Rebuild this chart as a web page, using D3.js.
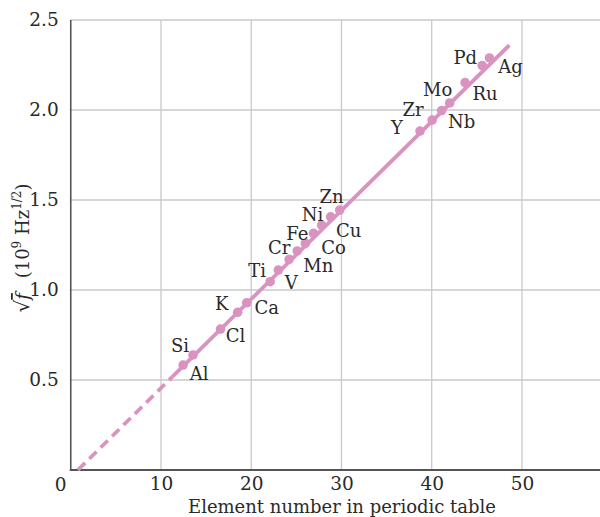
<!DOCTYPE html>
<html>
<head>
<meta charset="utf-8">
<script src="https://cdn.jsdelivr.net/npm/d3@7"></script>
<style>
  html, body { margin: 0; padding: 0; background: #fff; }
  svg { display: block; }
  text { font-family: "DejaVu Serif", "Liberation Serif", serif; fill: #2a2a2a; }
</style>
</head>
<body>
<svg id="chart" width="600" height="517"></svg>
<script>
// ---- data ----
const elements = ["Al","Si","Cl","K","Ca","Ti","V","Cr","Mn","Fe","Co","Ni","Cu","Zn","Y","Zr","Nb","Mo","Ru","Pd","Ag"];
const elementNumber = [12.45,13.55,16.6,18.5,19.5,22.1,23.0,24.2,25.1,26.0,26.9,27.8,28.8,29.8,38.7,40.05,41.1,42.0,43.7,45.6,46.4];
const sqrtFreq = [0.583,0.639,0.783,0.876,0.929,1.046,1.111,1.170,1.217,1.259,1.315,1.361,1.406,1.444,1.883,1.944,1.997,2.039,2.152,2.247,2.289];
const fitDashed = [[0.8, 0.0], [11.3, 0.52]];
const fitSolid = [[11.3, 0.52], [48.6, 2.36]];
const xTicks = [10, 20, 30, 40, 50];
const yTicks = [0.5, 1.0, 1.5, 2.0, 2.5];
const xTickLabels = ["10","20","30","40","50"];
const yTickLabels = ["0.5","1.0","1.5","2.0","2.5"];

// label placement (pixel offsets from the dot: layout only)
const labelOffsets = [
  [16,15],[-13,-3],[15,13],[-16,-2],[20,11],
  [-13,-5],[13,19],[-10,-5],[21,21],[-8,-3],[20,21],[-9,-4],[18,20],[-8,-7],
  [-23,3],[-19,-4],[20,17],[-12,-7],[20,17],[-17,-2],[21,15]
];

// ---- chart ----
const svg = d3.select("#chart");
const mLeft = 70.75, mRight = 600, mTop = 20, mBottom = 470;
const x = d3.scaleLinear().domain([0, 58.65]).range([mLeft, mRight]);
const y = d3.scaleLinear().domain([0, 2.5]).range([mBottom, mTop]);
const pink = "#da93c0";
const grid = "#c9c9c9";
const tickFont = 18.5, labelFont = 18;

// gridlines
svg.append("g").selectAll("line").data(yTicks).join("line")
  .attr("x1", mLeft).attr("x2", mRight)
  .attr("y1", d => y(d)).attr("y2", d => y(d))
  .attr("stroke", grid).attr("stroke-width", 1.3);
svg.append("g").selectAll("line").data(xTicks).join("line")
  .attr("x1", d => x(d)).attr("x2", d => x(d))
  .attr("y1", y(2.5)).attr("y2", mBottom)
  .attr("stroke", grid).attr("stroke-width", 1.3);

// axes (no tick marks)
const xAxis = d3.axisBottom(x).tickValues(xTicks).tickFormat((d,i) => xTickLabels[i]).tickSize(0).tickPadding(7);
const gx = svg.append("g").attr("transform", `translate(0,${mBottom})`).call(xAxis);
gx.select(".domain").attr("stroke", "#555").attr("stroke-width", 2).attr("d", `M${mLeft - 1},0H${mRight}`);
gx.selectAll("text").attr("font-family", "DejaVu Serif").attr("font-size", tickFont).attr("fill", "#2a2a2a");

const yAxis = d3.axisLeft(y).tickValues(yTicks).tickFormat((d,i) => yTickLabels[i]).tickSize(0).tickPadding(12);
const gy = svg.append("g").attr("transform", `translate(${mLeft},0)`).call(yAxis);
gy.select(".domain").attr("stroke", "#555").attr("stroke-width", 1.6).attr("d", `M0,${mTop}V${mBottom}`);
gy.selectAll("text").attr("font-family", "DejaVu Serif").attr("font-size", tickFont).attr("fill", "#2a2a2a");

// origin label
svg.append("text").attr("x", x(0) - 10).attr("y", mBottom + 21)
  .attr("text-anchor", "middle").attr("font-size", tickFont).text("0");

// fit line
const lineGen = d3.line().x(d => x(d[0])).y(d => y(d[1]));
svg.append("path").attr("d", lineGen(fitDashed))
  .attr("fill", "none").attr("stroke", pink).attr("stroke-width", 3.8)
  .attr("stroke-dasharray", "10,6");
svg.append("path").attr("d", lineGen(fitSolid))
  .attr("fill", "none").attr("stroke", pink).attr("stroke-width", 3.8);

// points
const pts = elements.map((e, i) => ({ name: e, z: elementNumber[i], v: sqrtFreq[i], off: labelOffsets[i] }));
svg.append("g").selectAll("circle").data(pts).join("circle")
  .attr("cx", d => x(d.z)).attr("cy", d => y(d.v)).attr("r", 4.8)
  .attr("fill", pink);

svg.append("g").selectAll("text").data(pts).join("text")
  .attr("x", d => x(d.z) + d.off[0]).attr("y", d => y(d.v) + d.off[1])
  .attr("text-anchor", "middle").attr("font-size", labelFont)
  .text(d => d.name);

// x axis title
svg.append("text").attr("x", 342).attr("y", 513)
  .attr("text-anchor", "middle").attr("font-size", 18)
  .text("Element number in periodic table");

// y axis title
const yt = svg.append("text")
  .attr("transform", "translate(29,248) rotate(-90)")
  .attr("text-anchor", "middle").attr("font-size", 18);
yt.append("tspan").attr("font-size", 20).text("\u221A");
yt.append("tspan").attr("font-style", "italic").attr("text-decoration", "overline").text("f");
yt.append("tspan").text("\u2002 (10");
yt.append("tspan").attr("font-size", 12).attr("dy", -8).text("9");
yt.append("tspan").attr("dy", 8).text(" Hz");
yt.append("tspan").attr("font-size", 12).attr("dy", -8).text("1/2");
yt.append("tspan").attr("dy", 8).text(")");
</script>
</body>
</html>
